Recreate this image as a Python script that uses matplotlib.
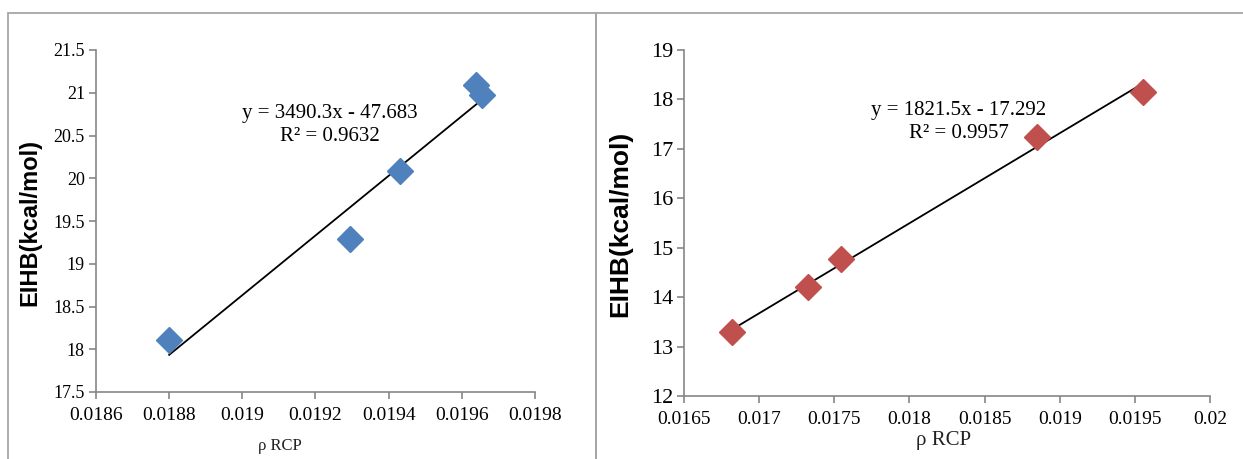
import matplotlib
matplotlib.use("Agg")
import matplotlib.pyplot as plt
from matplotlib.patches import Rectangle
import numpy as np

# left panel data
rcp_a = [0.01880, 0.019295, 0.019432, 0.019639, 0.019656]
eihb_a = [18.11, 19.29, 20.09, 21.09, 20.97]
fit_a = (3490.3, -47.683)
r2_a = 0.9632

# right panel data
rcp_b = [0.016819, 0.017324, 0.017542, 0.018849, 0.019553]
eihb_b = [13.29, 14.20, 14.78, 17.23, 18.16]
fit_b = (1821.5, -17.292)
r2_b = 0.9957

xticks_a = [0.0186, 0.0188, 0.0190, 0.0192, 0.0194, 0.0196, 0.0198]
yticks_a = [17.5, 18, 18.5, 19, 19.5, 20, 20.5, 21, 21.5]
xticks_b = [0.0165, 0.0170, 0.0175, 0.0180, 0.0185, 0.0190, 0.0195, 0.0200]
yticks_b = [12, 13, 14, 15, 16, 17, 18, 19]

serif = "Liberation Serif"
sans = "Liberation Sans"
gray = "#868686"
plt.rcParams["font.family"] = [serif, "DejaVu Serif"]

W, H = 1243, 459
fig = plt.figure(figsize=(W / 100, H / 100), dpi=100)

# panel frames (cut off by the picture edges)
fig.patches.append(Rectangle((8 / W, -0.05), (596 - 8) / W, 1.05 - 13 / H,
                             transform=fig.transFigure, fill=False,
                             edgecolor="#a6a6a6", lw=1.3))
fig.patches.append(Rectangle((596 / W, -0.05), 1.0, 1.05 - 13 / H,
                             transform=fig.transFigure, fill=False,
                             edgecolor="#a6a6a6", lw=1.3))


def lab(v):
    return "%g" % round(v, 6)


def panel(rect, xs, ys, fit, r2, color, xt, yt, ytsize, xtsize, eqpos):
    ax = fig.add_axes(rect)
    slope, icpt = fit
    lx = np.array([min(xs), max(xs)])
    ax.plot(lx, slope * lx + icpt, color="black", lw=1.3, zorder=2)
    ax.plot(xs, ys, ls="none", marker="D", ms=13.5, color=color,
            markeredgecolor=color, zorder=3)
    ax.set_xlim(xt[0], xt[-1])
    ax.set_ylim(yt[0], yt[-1])
    ax.set_xticks(xt, [lab(v) for v in xt], fontfamily=serif,
                  fontsize=xtsize)
    ax.set_yticks(yt, [lab(v) for v in yt], fontfamily=serif,
                  fontsize=ytsize)
    for s in ("top", "right"):
        ax.spines[s].set_visible(False)
    for s in ("left", "bottom"):
        ax.spines[s].set_color(gray)
        ax.spines[s].set_linewidth(1.2)
    ax.tick_params(axis="both", direction="out", length=5, width=1.2,
                   color=gray)
    ax.tick_params(axis="y", pad=3)
    ax.tick_params(axis="x", pad=6)
    eq = "y = %.1fx - %.3f" % (slope, -icpt)
    fig.text(eqpos[0], eqpos[1], eq + "\nR² = %.4f" % r2,
             ha="center", va="center", fontfamily=serif, fontsize=15,
             linespacing=1.3)
    return ax


ax1 = panel([96 / W, 1 - 392 / H, (535 - 96) / W, (392 - 50) / H],
            rcp_a, eihb_a, fit_a, r2_a, "#4f81bd", xticks_a, yticks_a,
            13, 14, (330 / W, 1 - 125 / H))
ax2 = panel([684 / W, 1 - 396 / H, (1210 - 684) / W, (396 - 50) / H],
            rcp_b, eihb_b, fit_b, r2_b, "#c0504d", xticks_b, yticks_b,
            16, 14, (959 / W, 1 - 122 / H))

# axis titles
fig.text(30 / W, 1 - 222 / H, "EIHB(kcal/mol)", rotation=90, ha="center",
         va="center", fontfamily=sans, fontweight="bold", fontsize=17)
fig.text(280 / W, 1 - 446 / H, "ρ RCP", ha="center", va="center",
         fontfamily=serif, fontsize=12, color="#222222")
fig.text(620 / W, 1 - 224 / H, "EIHB(kcal/mol)", rotation=90, ha="center",
         va="center", fontfamily=sans, fontweight="bold", fontsize=19)
fig.text(944 / W, 1 - 440 / H, "ρ RCP", ha="center", va="center",
         fontfamily=serif, fontsize=15, color="#222222")

fig.savefig("out.png", dpi=100)
